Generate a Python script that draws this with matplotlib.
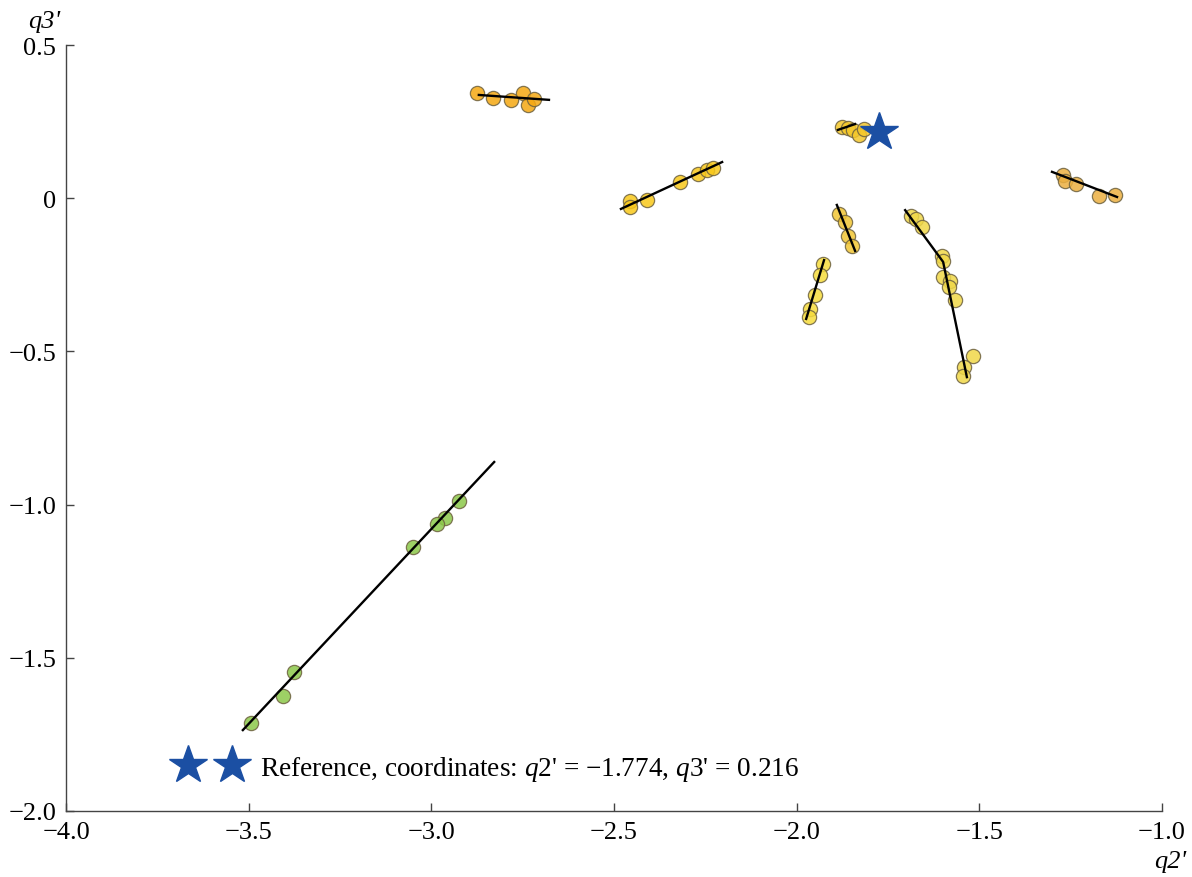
import matplotlib.pyplot as plt
import numpy as np

plt.rcParams['font.family'] = ['Liberation Serif', 'DejaVu Serif']
plt.rcParams['mathtext.fontset'] = 'custom'
plt.rcParams['mathtext.rm'] = 'Liberation Serif'
plt.rcParams['mathtext.it'] = 'Liberation Serif:italic'

# clusters of points (q2', q3') with their fitted segments
c1_x = [-2.875, -2.831, -2.782, -2.749, -2.735, -2.719]
c1_y = [0.343, 0.327, 0.320, 0.343, 0.304, 0.324]
c1_line_x = [-2.870, -2.678]
c1_line_y = [0.337, 0.321]

c2_x = [-2.456, -2.456, -2.410, -2.319, -2.270, -2.245, -2.229]
c2_y = [-0.009, -0.029, -0.006, 0.053, 0.079, 0.092, 0.099]
c2_line_x = [-2.481, -2.204]
c2_line_y = [-0.035, 0.118]

c3_x = [-1.876, -1.859, -1.846, -1.829, -1.816]
c3_y = [0.232, 0.229, 0.223, 0.206, 0.226]
c3_line_x = [-1.887, -1.840]
c3_line_y = [0.223, 0.242]

c4_x = [-1.884, -1.868, -1.859, -1.849]
c4_y = [-0.052, -0.078, -0.123, -0.156]
c4_line_x = [-1.890, -1.840]
c4_line_y = [-0.022, -0.172]

c5_x = [-1.928, -1.936, -1.950, -1.963, -1.966]
c5_y = [-0.215, -0.251, -0.316, -0.362, -0.388]
c5_line_x = [-1.974, -1.925]
c5_line_y = [-0.394, -0.202]

c6_x = [-1.687, -1.673, -1.657, -1.602, -1.599, -1.599, -1.580, -1.583, -1.567,
        -1.517, -1.542, -1.545]
c6_y = [-0.058, -0.068, -0.094, -0.189, -0.205, -0.257, -0.270, -0.290, -0.332,
        -0.515, -0.551, -0.580]
c6_line_x = [-1.703, -1.599, -1.534]
c6_line_y = [-0.039, -0.208, -0.584]

c7_x = [-1.271, -1.265, -1.235, -1.172, -1.129]
c7_y = [0.076, 0.056, 0.046, 0.007, 0.010]
c7_line_x = [-1.301, -1.123]
c7_line_y = [0.086, 0.004]

c8_x = [-2.924, -2.963, -2.984, -3.050, -3.376, -3.406, -3.494]
c8_y = [-0.988, -1.044, -1.063, -1.138, -1.546, -1.625, -1.713]
c8_line_x = [-3.516, -2.828]
c8_line_y = [-1.736, -0.861]

ref_x = -1.774
ref_y = 0.216

clusters = [
    (c1_x, c1_y, c1_line_x, c1_line_y, '#f5a812'),
    (c2_x, c2_y, c2_line_x, c2_line_y, '#f8c81a'),
    (c3_x, c3_y, c3_line_x, c3_line_y, '#f4c72a'),
    (c4_x, c4_y, c4_line_x, c4_line_y, '#f2c634'),
    (c5_x, c5_y, c5_line_x, c5_line_y, '#f6dc3c'),
    (c6_x, c6_y, c6_line_x, c6_line_y, '#f0d848'),
    (c7_x, c7_y, c7_line_x, c7_line_y, '#ecb040'),
    (c8_x, c8_y, c8_line_x, c8_line_y, '#8cc84a'),
]

fig = plt.figure(figsize=(11.92, 8.78), dpi=100)
ax = fig.add_axes([0.0554, 0.0752, 0.9194, 0.8724])

for px, py, lx, ly, col in clusters:
    ax.scatter(px, py, s=105, c=col, edgecolors='#6e6240', linewidths=0.9,
               alpha=0.85, zorder=2)
    ax.plot(lx, ly, color='black', lw=1.7, zorder=3)

star, = ax.plot(ref_x, ref_y, marker='*', ls='none', ms=29, color='#1b4fa3',
                mec='#1b4fa3', zorder=4,
                label="Reference, coordinates: $q$2' = \u22121.774, $q$3' = 0.216")

ax.legend(handles=[star], numpoints=2, frameon=False, fontsize=19.6,
          loc='center left', bbox_to_anchor=(0.104, 0.056),
          borderpad=0, borderaxespad=0, handlelength=2.2, handletextpad=0.75)

ax.set_xlim(-4.0, -1.0)
ax.set_ylim(-2.0, 0.5)

xt = np.arange(-4.0, -0.99, 0.5)
yt = [0.5, 0.0, -0.5, -1.0, -1.5, -2.0]
ax.set_xticks(xt)
ax.set_xticklabels([f'{v:.1f}'.replace('-', '\u2212') for v in xt])
ax.set_yticks(yt)
ax.set_yticklabels(['0' if v == 0 else f'{v:.1f}'.replace('-', '\u2212') for v in yt])

ax.spines['top'].set_visible(False)
ax.spines['right'].set_visible(False)
for s in ['left', 'bottom']:
    ax.spines[s].set_color('#444444')
    ax.spines[s].set_linewidth(1.0)
ax.tick_params(direction='in', length=6, width=1.0, color='#444444',
               labelsize=19, pad=7)

fig.text(0.037, 0.975, "q3'", fontsize=19, style='italic', ha='center', va='center')
fig.text(0.982, 0.018, "q2'", fontsize=19, style='italic', ha='center', va='center')

fig.savefig('out.png', dpi=100)
